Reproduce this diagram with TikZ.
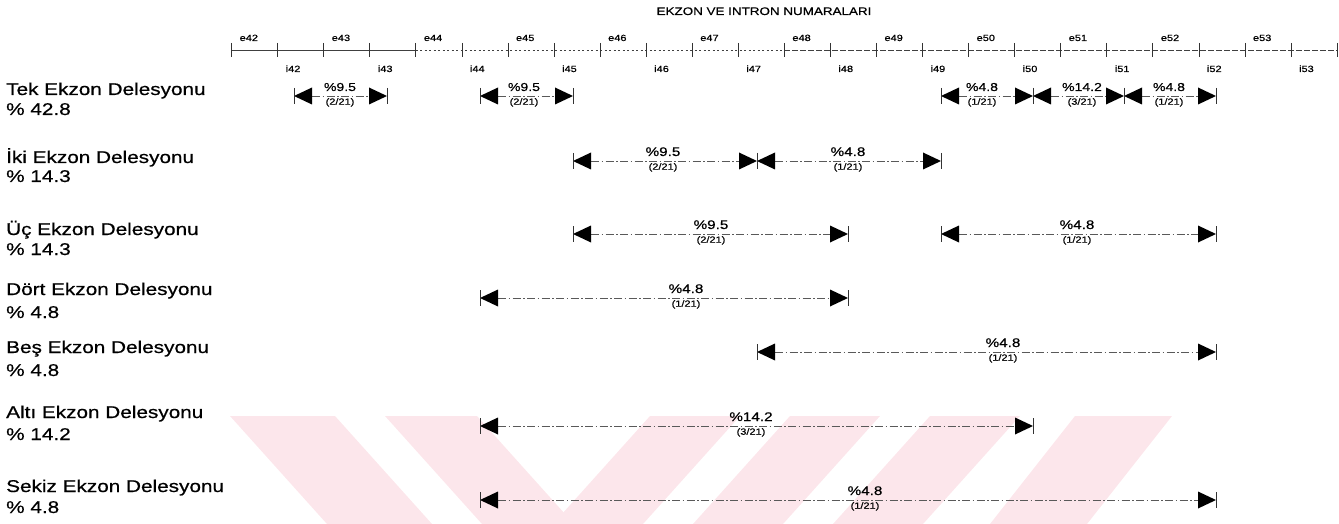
\documentclass[tikz,border=0pt]{standalone}
\usepackage{fontspec}
\setmainfont{Liberation Sans}[FakeStretch=1.22, FakeBold=0.6]
\usetikzlibrary{calc}
\definecolor{wm}{RGB}{252,230,235}
\tikzset{
  rowlab/.style={anchor=base west, inner sep=0pt, font=\fontsize{17}{17}\selectfont},
  rulerlab/.style={anchor=base west, inner sep=0pt, font=\fontsize{9}{9}\selectfont},
  pctA/.style={anchor=base, inner sep=0pt, font=\fontsize{11.5}{11.5}\selectfont},
  pctB/.style={anchor=base, inner sep=0pt, font=\fontsize{12.5}{12.5}\selectfont},
  fraclab/.style={anchor=north, inner sep=0pt, font=\fontsize{9}{9}\selectfont},
  delline/.style={line width=0.5pt, black!65, dash pattern=on 8pt off 2.5pt on 1.5pt off 2.5pt},
  endtick/.style={line width=0.5pt, black!80},
  tri/.style={fill=black},
  rulerline/.style={line width=0.6pt, black!75},
  wmark/.style={fill=wm, draw=none},
}
\newcommand\delarrow[8]{%
  \coordinate (#1L) at (#3,#2);
  \coordinate (#1R) at (#4,#2);
  \draw[delline] ($(#1L)+(18,0)$) -- ($(#1R)+(-18,0)$);
  \fill[tri] (#1L) -- ++(18,-8.5) -- ++(0,17) -- cycle;
  \fill[tri] (#1R) -- ++(-18,-8.5) -- ++(0,17) -- cycle;
  \draw[endtick] ($(#1L)+(0,-8)$) -- ($(#1L)+(0,8)$);
  \draw[endtick] ($(#1R)+(0,-8)$) -- ($(#1R)+(0,8)$);
  \node[#8] (#1p) at (#5,{#2-5}) {\%#6};
  \node[fraclab] (#1f) at (#5,{#2+2}) {(#7)};
}
\begin{document}
\begin{tikzpicture}[x=1pt,y=-1pt]
\useasboundingbox (0,0) rectangle (1339,524);
% watermark
\fill[wmark] (230,416) -- (335,416) -- (432,524) -- (327,524) -- cycle;
\fill[wmark] (385,416) -- (477,416) -- (574,524) -- (482,524) -- cycle;
\fill[wmark] (650,416) -- (740,416) -- (643,524) -- (553,524) -- cycle;
\fill[wmark] (790,416) -- (880,416) -- (783,524) -- (693,524) -- cycle;
\fill[wmark] (930,416) -- (1020,416) -- (923,524) -- (833,524) -- cycle;
\fill[wmark] (1075,416) -- (1172,416) -- (1087,524) -- (990,524) -- cycle;
% title
\node[anchor=base, inner sep=0pt, font=\fontsize{11}{11}\selectfont] (title) at (764,15) {EKZON VE INTRON NUMARALARI};
% ruler
\foreach \k in {0,...,24} { \coordinate (t\k) at ({231.5+46.06*\k},50); }
\draw[rulerline] (t0) -- (t4);
\draw[rulerline, dash pattern=on 2pt off 2.5pt] (t4) -- (t12);
\draw[rulerline, dash pattern=on 6pt off 2pt] (t12) -- (t24);
\foreach \k in {0,...,24} { \draw[endtick] ($(t\k)+(0,-7)$) -- ($(t\k)+(0,7)$); }
\foreach \m [evaluate=\m as \n using int(42+\m), evaluate=\m as \ke using int(2*\m), evaluate=\m as \ki using int(2*\m+1)] in {0,...,11} {
  \node[rulerlab] (e\n) at ($(t\ke)+(8,-9)$) {e\n};
  \node[rulerlab] (i\n) at ($(t\ki)+(8,22)$) {i\n};
}
% row labels
\node[rowlab] (r1a) at (6,95) {Tek Ekzon Delesyonu};
\node[rowlab] (r1b) at (6,115) {\% 42.8};
\node[rowlab] (r2a) at (6,163) {İki Ekzon Delesyonu};
\node[rowlab] (r2b) at (6,182) {\% 14.3};
\node[rowlab] (r3a) at (6,235) {Üç Ekzon Delesyonu};
\node[rowlab] (r3b) at (6,255) {\% 14.3};
\node[rowlab] (r4a) at (6,295) {Dört Ekzon Delesyonu};
\node[rowlab] (r4b) at (6,318) {\% 4.8};
\node[rowlab] (r5a) at (6,353) {Beş Ekzon Delesyonu};
\node[rowlab] (r5b) at (6,376) {\% 4.8};
\node[rowlab] (r6a) at (6,418) {Altı Ekzon Delesyonu};
\node[rowlab] (r6b) at (6,440) {\% 14.2};
\node[rowlab] (r7a) at (6,492) {Sekiz Ekzon Delesyonu};
\node[rowlab] (r7b) at (6,513) {\% 4.8};
% deletion arrows
\delarrow{a1}{96}{294}{387}{340}{9.5}{2/21}{pctA}
\delarrow{a2}{96}{480}{573}{524}{9.5}{2/21}{pctA}
\delarrow{a3}{96}{941}{1033}{982}{4.8}{1/21}{pctA}
\delarrow{a4}{96}{1033}{1124}{1082}{14.2}{3/21}{pctA}
\delarrow{a5}{96}{1124}{1216}{1169}{4.8}{1/21}{pctA}
\delarrow{b1}{161}{573}{757}{663}{9.5}{2/21}{pctB}
\delarrow{b2}{161}{757}{941}{848}{4.8}{1/21}{pctB}
\delarrow{c1}{234}{573}{848}{711}{9.5}{2/21}{pctB}
\delarrow{c2}{234}{941}{1216}{1077}{4.8}{1/21}{pctB}
\delarrow{d1}{298}{480}{848}{686}{4.8}{1/21}{pctB}
\delarrow{f1}{352}{757}{1216}{1003}{4.8}{1/21}{pctB}
\delarrow{g1}{426}{480}{1033}{751}{14.2}{3/21}{pctB}
\delarrow{h1}{500}{480}{1216}{865}{4.8}{1/21}{pctB}
\end{tikzpicture}
\end{document}
